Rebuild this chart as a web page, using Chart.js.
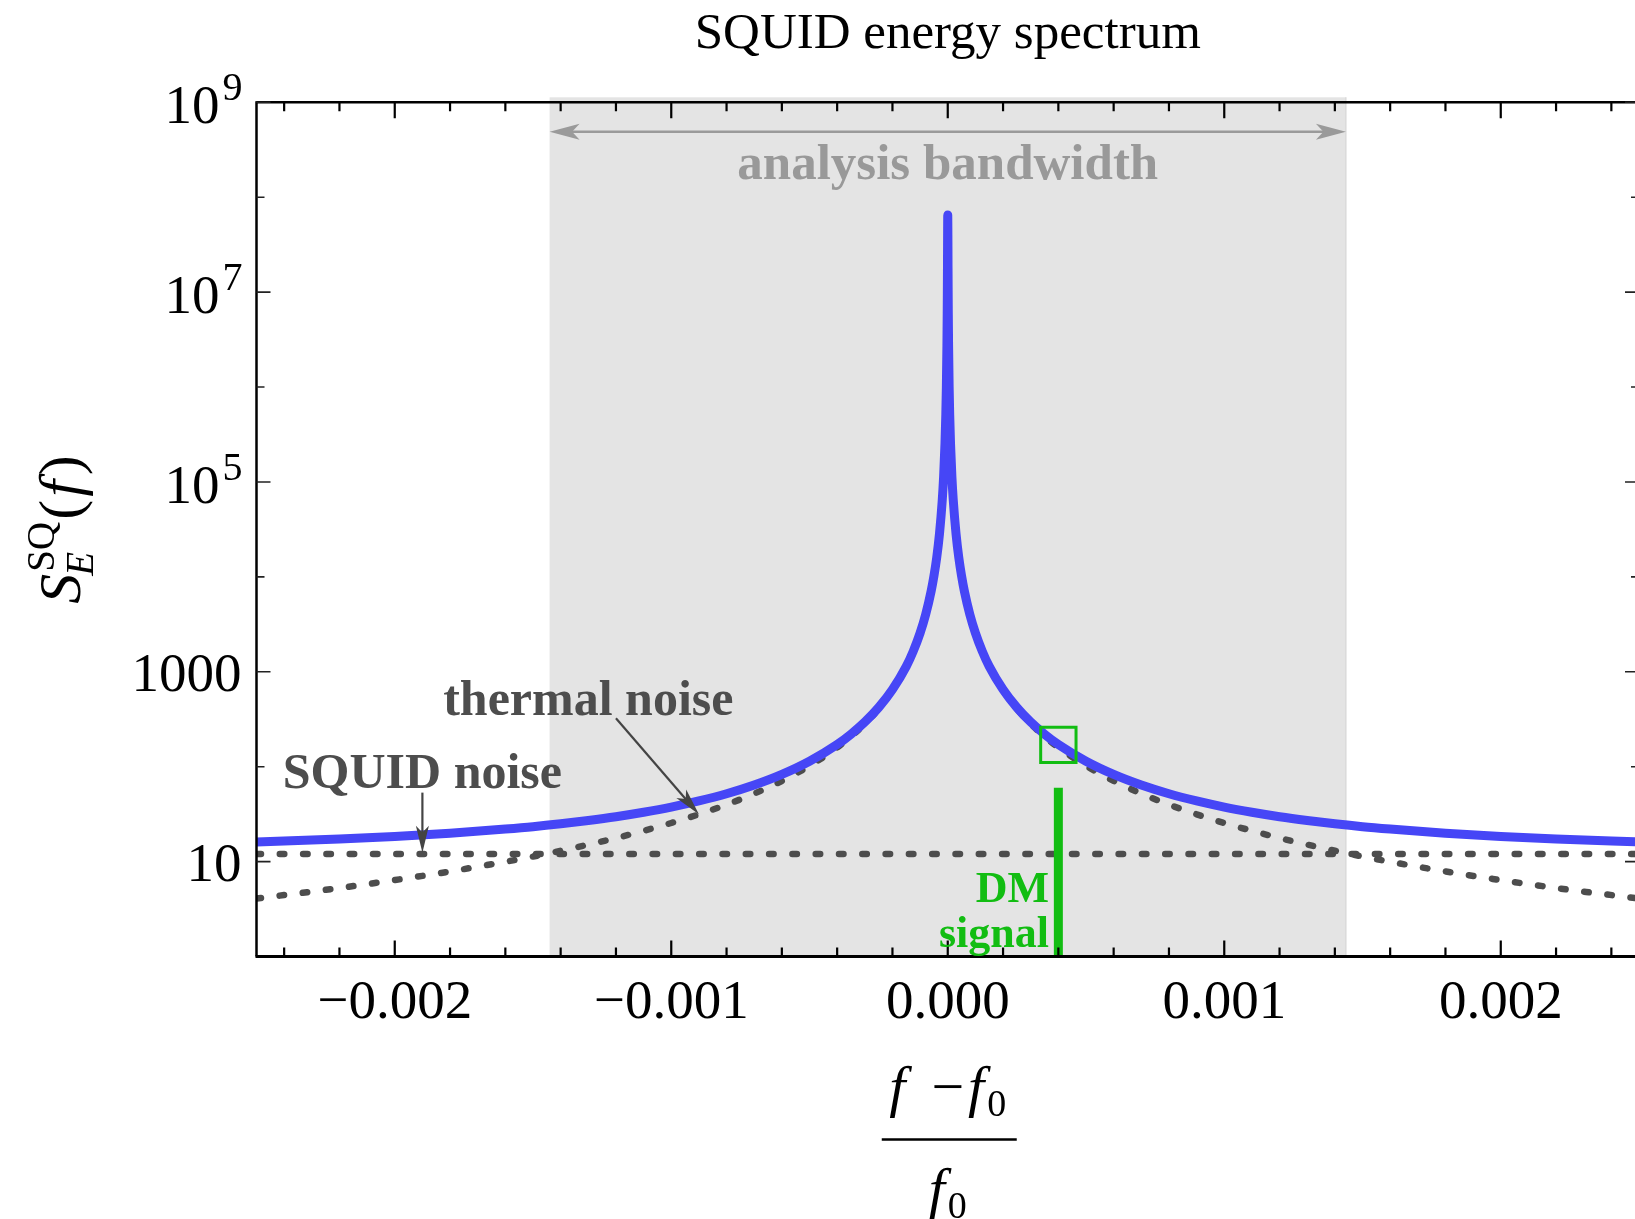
<!DOCTYPE html>
<html>
<head>
<meta charset="utf-8">
<title>SQUID energy spectrum</title>
<script src="https://cdn.jsdelivr.net/npm/chart.js@4.4.1/dist/chart.umd.min.js"></script>
<style>
  html, body { margin: 0; padding: 0; background: #fff; overflow: hidden; }
  #wrap { width: 1635px; height: 1219px; }
  #spectrum { display: block; width: 1635px; height: 1219px; }
</style>
</head>
<body>
<div id="wrap"><canvas id="spectrum" width="1635" height="1219"></canvas></div>
<script>
// (f - f0)/f0 sample positions
const freqOffset = [
  -0.0025, -0.0022, -0.002, -0.0018, -0.0016, -0.0015, -0.0014, -0.0013, -0.0012, -0.0011,
  -0.001, -0.0009, -0.0008, -0.0007, -0.0006, -0.0005, -0.0004, -0.00035, -0.0003, -0.00025,
  -0.0002, -0.00015, -0.000125, -0.0001, -0.00008, -0.00006, -0.00005, -0.00004, -0.00003, -0.00002,
  -0.000015, -0.00001, -0.000007, -0.000005, -0.000003, -0.000002, -0.0000015, -0.000001, -0.0000005,
  0,
  0.0000005, 0.000001, 0.0000015, 0.000002, 0.000003, 0.000005, 0.000007, 0.00001, 0.000015,
  0.00002, 0.00003, 0.00004, 0.00005, 0.00006, 0.00008, 0.0001, 0.000125, 0.00015, 0.0002,
  0.00025, 0.0003, 0.00035, 0.0004, 0.0005, 0.0006, 0.0007, 0.0008, 0.0009, 0.001,
  0.0011, 0.0012, 0.0013, 0.0014, 0.0015, 0.0016, 0.0018, 0.002, 0.0022, 0.0025
];

// blue curve: total spectrum
const totalSpectrum = [
  16.1, 17.3, 18.4, 19.9, 22.0, 23.3, 25.0, 27.1, 29.7, 33.1,
  37.5, 43.5, 51.8, 64.0, 82.8, 114, 171, 220, 295, 420,
  650, 1140, 1640, 2560, 3990, 7090, 1.02e4, 1.59e4, 2.83e4, 6.37e4,
  1.13e5, 2.54e5, 5.16e5, 1.0e6, 2.72e6, 5.81e6, 9.65e6, 1.83e7, 3.97e7,
  6.5e7,
  3.97e7, 1.83e7, 9.65e6, 5.81e6, 2.72e6, 1.0e6, 5.16e5, 2.54e5, 1.13e5,
  6.37e4, 2.83e4, 1.59e4, 1.02e4, 7090, 3990, 2560, 1640, 1140, 650,
  420, 295, 220, 171, 114, 82.8, 64.0, 51.8, 43.5, 37.5,
  33.1, 29.7, 27.1, 25.0, 23.3, 22.0, 19.9, 18.4, 17.3, 16.1
];

// dotted curve: thermal noise
const thermalNoise = [
  4.08, 5.27, 6.38, 7.87, 9.96, 11.3, 13.0, 15.1, 17.7, 21.1,
  25.5, 31.5, 39.8, 52.0, 70.8, 102, 159, 208, 283, 408,
  638, 1130, 1630, 2550, 3980, 7080, 1.02e4, 1.59e4, 2.83e4, 6.37e4,
  1.13e5, 2.54e5, 5.16e5, 1.0e6, 2.72e6, 5.81e6, 9.65e6, 1.83e7, 3.97e7,
  6.5e7,
  3.97e7, 1.83e7, 9.65e6, 5.81e6, 2.72e6, 1.0e6, 5.16e5, 2.54e5, 1.13e5,
  6.37e4, 2.83e4, 1.59e4, 1.02e4, 7080, 3980, 2550, 1630, 1130, 638,
  408, 283, 208, 159, 102, 70.8, 52.0, 39.8, 31.5, 25.5,
  21.1, 17.7, 15.1, 13.0, 11.3, 9.96, 7.87, 6.38, 5.27, 4.08
];

// dotted flat line: SQUID noise
const squidOffset = [-0.0025, 0.0025];
const squidNoise = [12, 12];

// DM signal bar and marker
const dmOffset = [0.0004, 0.0004];
const dmSignal = [1, 60];
const dmMarker = [170];

// analysis bandwidth shading
const bandEdges = [-0.00144, 0.00144];

// axes (the frame ends at +0.0025, just past the cropped right edge)
const xFrame = [-0.0025, 0.0025];
const xVisible = [-0.0025, 0.0024855];
const xTickValues = [-0.002, -0.001, 0, 0.001, 0.002];
const xTickLabels = ['\u22120.002', '\u22120.001', '0.000', '0.001', '0.002'];
const yTickValues = [10, 1000, 1e5, 1e7, 1e9];
const yTickBase = ['10', '1000', '10', '10', '10'];
const yTickExp = ['', '', '5', '7', '9'];
const yMinorValues = [100, 1e4, 1e6, 1e8];

const BLUE = '#4646f6';
const DOTS = '#4d4d4d';
const GREEN = '#12bd12';
const BAND = '#e4e4e4';
const SERIF = '"Liberation Serif", "Times New Roman", serif';

const notes = [
  { text: 'analysis bandwidth', x: 0, y: 1.55e8, color: '#999999', size: 51, align: 'center' },
  { text: 'thermal noise', x: -0.0013, y: 351, color: DOTS, size: 50, align: 'center' },
  { text: 'SQUID noise', x: -0.0019, y: 59.3, color: DOTS, size: 50, align: 'center' },
  { text: 'DM', x: 0.000366, y: 3.79, color: GREEN, size: 44, align: 'right' },
  { text: 'signal', x: 0.000366, y: 1.27, color: GREEN, size: 44, align: 'right' }
];
const pointers = [
  { from: [-0.0012, 324], to: [-0.0009, 31.5] },
  { from: [-0.0019, 53.3], to: [-0.0019, 12.4] }
];
const bandArrowY = 4.9e8;

function pts(xs, ys) {
  return xs.map((x, i) => ({ x: x, y: ys[i] }));
}

function arrowHead(ctx, x2, y2, ang, len, half, color) {
  const c = Math.cos(ang), s = Math.sin(ang);
  const bx = x2 - c * len, by = y2 - s * len;
  const nx = x2 - c * len * 0.75, ny = y2 - s * len * 0.75;
  ctx.fillStyle = color;
  ctx.beginPath();
  ctx.moveTo(x2, y2);
  ctx.lineTo(bx - s * half, by + c * half);
  ctx.lineTo(nx, ny);
  ctx.lineTo(bx + s * half, by - c * half);
  ctx.closePath();
  ctx.fill();
}

// draws a run of text pieces, each {t, f, dy, dx}, starting at x
function pieces(ctx, list, x, y) {
  let cx = x;
  list.forEach(p => {
    ctx.font = p.f;
    ctx.fillText(p.t, cx + (p.dx || 0), y + (p.dy || 0));
    cx += ctx.measureText(p.t).width + (p.dx || 0);
  });
  return cx;
}
function piecesWidth(ctx, list) {
  let w = 0;
  list.forEach(p => { ctx.font = p.f; w += ctx.measureText(p.t).width + (p.dx || 0); });
  return w;
}

const decorations = {
  id: 'decorations',
  beforeDatasetsDraw(chart) {
    const { ctx, chartArea: a, scales: { x } } = chart;
    const b0 = x.getPixelForValue(bandEdges[0]);
    const b1 = x.getPixelForValue(bandEdges[1]);
    ctx.save();
    ctx.fillStyle = BAND;
    ctx.fillRect(b0, a.top - 5, b1 - b0, a.bottom - a.top + 5);
    ctx.strokeStyle = '#d6d6d6';
    ctx.lineWidth = 1.2;
    ctx.beginPath();
    ctx.moveTo(b1, a.top - 5); ctx.lineTo(b1, a.bottom);
    ctx.stroke();
    ctx.restore();
  },
  afterDatasetsDraw(chart) {
    const { ctx, chartArea: a, scales: { x, y } } = chart;
    const lx = x.getPixelForValue(xFrame[0]);
    const rx = x.getPixelForValue(xFrame[1]);
    ctx.save();

    // frame
    ctx.strokeStyle = '#000';
    ctx.lineWidth = 2.5;
    ctx.beginPath();
    ctx.moveTo(lx, a.top); ctx.lineTo(rx, a.top);
    ctx.moveTo(lx, a.top - 1); ctx.lineTo(lx, a.bottom);
    ctx.moveTo(rx, a.top); ctx.lineTo(rx, a.bottom);
    ctx.stroke();
    ctx.lineWidth = 3;
    ctx.beginPath();
    ctx.moveTo(lx - 1, a.bottom); ctx.lineTo(rx, a.bottom);
    ctx.stroke();

    // x ticks, inward on bottom and top
    ctx.lineWidth = 2.2;
    ctx.beginPath();
    for (let k = -12; k <= 12; k++) {
      const px = x.getPixelForValue(k * 0.0002);
      const len = (k % 5 === 0) ? 16 : 9;
      ctx.moveTo(px, a.bottom); ctx.lineTo(px, a.bottom - len);
      ctx.moveTo(px, a.top); ctx.lineTo(px, a.top + len);
    }
    ctx.stroke();

    // y ticks, inward on left and right
    ctx.strokeStyle = '#222';
    ctx.lineWidth = 1.6;
    ctx.beginPath();
    yTickValues.forEach(v => {
      const py = y.getPixelForValue(v);
      ctx.moveTo(lx, py); ctx.lineTo(lx + 14, py);
      ctx.moveTo(rx, py); ctx.lineTo(rx - 14, py);
    });
    yMinorValues.forEach(v => {
      const py = y.getPixelForValue(v);
      ctx.moveTo(lx, py); ctx.lineTo(lx + 8, py);
      ctx.moveTo(rx, py); ctx.lineTo(rx - 8, py);
    });
    ctx.stroke();

    // tick labels
    ctx.fillStyle = '#000';
    ctx.textBaseline = 'alphabetic';
    ctx.font = '55px ' + SERIF;
    ctx.textAlign = 'center';
    xTickValues.forEach((v, i) => {
      ctx.fillText(xTickLabels[i], x.getPixelForValue(v), a.bottom + 61);
    });
    yTickValues.forEach((v, i) => {
      const py = y.getPixelForValue(v);
      if (yTickExp[i]) {
        ctx.textAlign = 'right';
        ctx.font = '55px ' + SERIF;
        ctx.fillText(yTickBase[i], lx - 37, py + 21);
        ctx.textAlign = 'left';
        ctx.font = '40px ' + SERIF;
        ctx.fillText(yTickExp[i], lx - 34, py - 2);
      } else {
        ctx.textAlign = 'right';
        ctx.font = '55px ' + SERIF;
        ctx.fillText(yTickBase[i], lx - 15, py + 19);
      }
    });

    // analysis bandwidth arrow
    const ay = y.getPixelForValue(bandArrowY);
    const b0 = x.getPixelForValue(bandEdges[0]);
    const b1 = x.getPixelForValue(bandEdges[1]);
    ctx.strokeStyle = '#9a9a9a';
    ctx.lineWidth = 2.6;
    ctx.beginPath();
    ctx.moveTo(b0 + 20, ay); ctx.lineTo(b1 - 20, ay);
    ctx.stroke();
    arrowHead(ctx, b0, ay, Math.PI, 30, 8, '#9a9a9a');
    arrowHead(ctx, b1, ay, 0, 30, 8, '#9a9a9a');

    // pointer arrows
    pointers.forEach(p => {
      const x1 = x.getPixelForValue(p.from[0]), y1 = y.getPixelForValue(p.from[1]);
      const x2 = x.getPixelForValue(p.to[0]), y2 = y.getPixelForValue(p.to[1]);
      const ang = Math.atan2(y2 - y1, x2 - x1);
      ctx.strokeStyle = '#444';
      ctx.lineWidth = 2.2;
      ctx.beginPath();
      ctx.moveTo(x1, y1);
      ctx.lineTo(x2 - Math.cos(ang) * 18, y2 - Math.sin(ang) * 18);
      ctx.stroke();
      arrowHead(ctx, x2, y2, ang, 27, 6.5, '#444');
    });

    // annotation labels
    notes.forEach(n => {
      ctx.fillStyle = n.color;
      ctx.font = 'bold ' + n.size + 'px ' + SERIF;
      ctx.textAlign = n.align;
      ctx.fillText(n.text, x.getPixelForValue(n.x), y.getPixelForValue(n.y));
    });

    // title
    const cx = x.getPixelForValue(0);
    ctx.fillStyle = '#000';
    ctx.textAlign = 'center';
    ctx.font = '51px ' + SERIF;
    ctx.fillText('SQUID energy spectrum', cx, 48);

    // x axis title: (f - f0) / f0
    ctx.textAlign = 'left';
    const it = 'italic 58px ' + SERIF, rm = '58px ' + SERIF, sub = '38px ' + SERIF;
    const num = [
      { t: 'f', f: it }, { t: '\u2212', f: rm, dx: 26 }, { t: 'f', f: it, dx: 4 }, { t: '0', f: sub, dy: 10, dx: 3 }
    ];
    const den = [{ t: 'f', f: it }, { t: '0', f: sub, dy: 10, dx: 3 }];
    const nw = piecesWidth(ctx, num), dw = piecesWidth(ctx, den);
    pieces(ctx, num, cx - nw / 2, 1106);
    pieces(ctx, den, cx - dw / 2, 1208);
    ctx.strokeStyle = '#000';
    ctx.lineWidth = 2.6;
    ctx.beginPath();
    ctx.moveTo(cx - 66, 1139.5); ctx.lineTo(cx + 69, 1139.5);
    ctx.stroke();

    // y axis title: S_E^SQ(f), rotated
    ctx.translate(80, (a.top + a.bottom) / 2);
    ctx.rotate(-Math.PI / 2);
    const mainIt = 'italic 60px ' + SERIF, mainRm = '60px ' + SERIF;
    ctx.font = mainIt;
    const sW = ctx.measureText('S').width;
    ctx.font = '39px ' + SERIF;
    const supW = ctx.measureText('SQ').width;
    const tail = [{ t: '(', f: mainRm }, { t: 'f', f: mainIt, dx: 3 }, { t: ')', f: mainRm, dx: 5 }];
    const total = sW + 4 + supW + piecesWidth(ctx, tail);
    const sx = -total / 2;
    ctx.fillStyle = '#000';
    ctx.font = mainIt;
    ctx.fillText('S', sx, 0);
    ctx.font = '39px ' + SERIF;
    ctx.fillText('SQ', sx + sW + 2, -26);
    ctx.font = 'italic 39px ' + SERIF;
    ctx.fillText('E', sx + sW - 2, 13);
    pieces(ctx, tail, sx + sW + 4 + supW, 0);

    ctx.restore();
  }
};

const chart = new Chart(document.getElementById('spectrum'), {
  type: 'line',
  data: {
    datasets: [
      {
        type: 'scatter',
        data: pts([dmOffset[0]], dmMarker),
        pointStyle: 'rect',
        pointRadius: 25,
        borderColor: GREEN,
        borderWidth: 3,
        backgroundColor: 'rgba(0,0,0,0)',
        order: 0
      },
      {
        data: pts(dmOffset, dmSignal),
        borderColor: GREEN,
        borderWidth: 9,
        borderCapStyle: 'butt',
        pointRadius: 0,
        order: 1
      },
      {
        data: pts(freqOffset, totalSpectrum),
        borderColor: BLUE,
        borderWidth: 9,
        borderJoinStyle: 'round',
        cubicInterpolationMode: 'monotone',
        pointRadius: 0,
        order: 2
      },
      {
        data: pts(freqOffset, thermalNoise),
        borderColor: DOTS,
        borderWidth: 6.5,
        borderDash: [4.5, 18.8],
        borderCapStyle: 'round',
        cubicInterpolationMode: 'monotone',
        pointRadius: 0,
        order: 3
      },
      {
        data: pts(squidOffset, squidNoise),
        borderColor: DOTS,
        borderWidth: 6.5,
        borderDash: [4.5, 18.8],
        borderCapStyle: 'round',
        pointRadius: 0,
        order: 4
      }
    ]
  },
  options: {
    responsive: false,
    animation: false,
    events: [],
    layout: { autoPadding: false, padding: { left: 256.5, top: 102.3, right: 0, bottom: 262.5 } },
    plugins: { legend: { display: false }, tooltip: { enabled: false } },
    scales: {
      x: { type: 'linear', min: xVisible[0], max: xVisible[1], display: false },
      y: { type: 'logarithmic', min: 1, max: 1e9, display: false }
    }
  },
  plugins: [decorations]
});
</script>
</body>
</html>
